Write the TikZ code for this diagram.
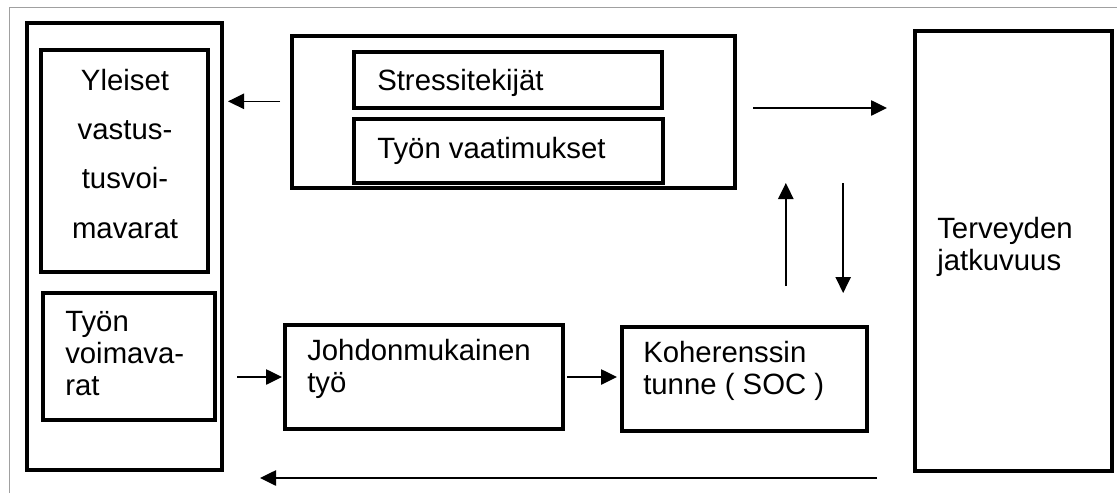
\documentclass[tikz,border=0pt]{standalone}
\usepackage{fontspec}
\setmainfont{Liberation Sans}
\usetikzlibrary{fit,arrows.meta}

\tikzset{
  boks/.style={draw, line width=3.6pt, inner sep=0pt, outer sep=0pt},
  teksti/.style={inner sep=0pt, align=left, font=\fontsize{22}{24}\selectfont},
  nuoli/.style={line width=1.1pt, -{Triangle[length=12pt,width=11.5pt]}},
}

\begin{document}
\begin{tikzpicture}[x=0.75pt,y=0.75pt,yscale=-1,xscale=1]
\useasboundingbox (0,0) rectangle (1117,493);

%Shape: Frame
\draw [color={rgb, 255:red, 160; green, 160; blue, 160}, line width=0.75pt] (9,493) -- (9,7) -- (1117,7);

%Shape: Rectangle [voimavarat]
\node [boks, fit={(27,23) (222,470)}] (voimavarat) {};
%Shape: Rectangle [yleiset]
\node [boks, fit={(41,50) (208,272)}] (yleiset) {};
%Shape: Rectangle [tyovoima]
\node [boks, fit={(43,293) (215,420)}] (tyovoima) {};

%Shape: Rectangle [kuormitus]
\node [boks, fit={(292,36) (735,188)}] (kuormitus) {};
%Shape: Rectangle [stressi]
\node [boks, fit={(354,52) (662,108)}] (stressi) {};
%Shape: Rectangle [vaatimus]
\node [boks, fit={(354,119) (663,183)}] (vaatimus) {};

%Shape: Rectangle [johdon]
\node [boks, fit={(285,325) (563,429)}] (johdon) {};
%Shape: Rectangle [soc]
\node [boks, fit={(622,327) (867,431)}] (soc) {};

%Shape: Rectangle [terveys]
\node [boks, fit={(915,31) (1112,471)}] (terveys) {};


% Text Node (base = last line)
\node [teksti, align=center, anchor=base, font=\fontsize{22}{37}\selectfont] (yleisettxt) at (125,238) {Yleiset\\vastus-\\tusvoi-\\mavarat};
% Text Node
\node [teksti, anchor=base west] (tyovoimatxt) at (65,395) {Työn\\voimava-\\rat};
% Text Node
\node [teksti, anchor=base west] (stressitxt) at (377,90) {Stressitekijät};
% Text Node
\node [teksti, anchor=base west] (vaatimustxt) at (377,158) {Työn vaatimukset};
% Text Node
\node [teksti, anchor=base west] (johdontxt) at (307,392) {Johdonmukainen\\työ};
% Text Node
\node [teksti, anchor=base west] (soctxt) at (643,394) {Koherenssin\\tunne ( SOC )};
% Text Node
\node [teksti, anchor=base west] (terveystxt) at (937,270) {Terveyden\\jatkuvuus};


%Arrows
\coordinate (ylanuoli) at ([yshift=-8pt]kuormitus.west);
\draw [nuoli, shorten <=9pt, shorten >=4.5pt] (ylanuoli) -- (ylanuoli -| voimavarat.east);

\coordinate (oikeanuoli) at ([yshift=-3pt]kuormitus.east);
\draw [nuoli, shorten <=13.5pt, shorten >=21pt] (oikeanuoli) -- (oikeanuoli -| terveys.west);

\coordinate (ylos) at ([xshift=31pt]soc.north);
\draw [nuoli, shorten <=30.75pt, shorten >=-3.75pt] (ylos) -- (ylos |- kuormitus.south);

\coordinate (alas) at ([xshift=74pt]soc.north);
\draw [nuoli, shorten <=-3.75pt, shorten >=25.5pt] (alas |- kuormitus.south) -- (alas);

\draw [nuoli, shorten <=11.25pt, shorten >=2.25pt] (johdon.west -| voimavarat.east) -- (johdon.west);

\draw [nuoli, shorten <=3pt, shorten >=3.75pt] (johdon.east) -- (johdon.east -| soc.west);

\coordinate (alanuoli) at ([yshift=6pt]voimavarat.south east);
\draw [nuoli, shorten <=28.5pt, shorten >=28.5pt] (alanuoli -| terveys.west) -- (alanuoli);

\end{tikzpicture}
\end{document}
